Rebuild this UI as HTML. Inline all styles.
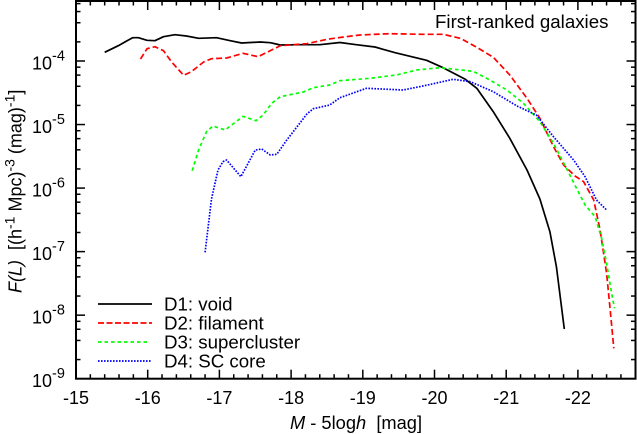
<!DOCTYPE html>
<html>
<head>
<meta charset="utf-8">
<style>
html,body{margin:0;padding:0;background:#fff;}
svg{display:block;}
text{font-family:"Liberation Sans",sans-serif;fill:#000;}
</style>
</head>
<body>
<svg id="chart" width="637" height="434" viewBox="0 0 637 434" xmlns="http://www.w3.org/2000/svg">
<rect x="76" y="1" width="559.5" height="377.7" fill="none" stroke="#000" stroke-width="2"/>
<g id="ticks"></g>
<g id="series"></g>
<text x="435" y="28" font-size="18.7">First-ranked galaxies</text>
<g>
<line x1="98" x2="152" y1="304" y2="304" stroke="#000" stroke-width="1.7"/>
<text x="164" y="310.5" font-size="18.7">D1: void</text>
<line x1="98" x2="152" y1="323" y2="323" stroke="#f00" stroke-width="1.7" stroke-dasharray="6 2.5"/>
<text x="164" y="329.5" font-size="18.7">D2: filament</text>
<line x1="98" x2="150" y1="342" y2="342" stroke="#0f0" stroke-width="1.7" stroke-dasharray="3.5 3"/>
<text x="164" y="348.5" font-size="18.7">D3: supercluster</text>
<line x1="98" x2="151" y1="361" y2="361" stroke="#00f" stroke-width="1.7" stroke-dasharray="1.6 1.4"/>
<text x="164" y="367.5" font-size="18.7">D4: SC core</text>
</g>
<text x="356" y="429" font-size="18.3" text-anchor="middle" xml:space="preserve"><tspan font-style="italic">M</tspan> - 5log<tspan font-style="italic">h</tspan>  [mag]</text>
<text transform="translate(21.5,293) rotate(-90)" font-size="18" xml:space="preserve"><tspan font-style="italic">F(L)</tspan>  [(h<tspan font-size="14" dy="-7">-1</tspan><tspan dy="7"> Mpc)</tspan><tspan font-size="14" dy="-7">-3</tspan><tspan dy="7"> (mag)</tspan><tspan font-size="14" dy="-7">-1</tspan><tspan dy="7">]</tspan></text>
</svg>
<script>
const xTickLabels = [-15, -16, -17, -18, -19, -20, -21, -22];
const yTickExponents = [-9, -8, -7, -6, -5, -4];

const d1Mag = [-15.40,-15.59,-15.79,-15.87,-15.99,-16.10,-16.22,-16.38,-16.54,-16.71,-16.96,-17.15,-17.31,-17.57,-17.71,-17.85,-18.12,-18.40,-18.68,-18.91,-19.17,-19.45,-19.89,-20.12,-20.43,-20.59,-20.82,-21.05,-21.29,-21.47,-21.61,-21.70,-21.81];
const d1LogF = [-3.863,-3.759,-3.633,-3.633,-3.674,-3.681,-3.618,-3.586,-3.607,-3.643,-3.633,-3.681,-3.717,-3.701,-3.712,-3.748,-3.743,-3.743,-3.709,-3.743,-3.780,-3.869,-3.989,-4.105,-4.288,-4.430,-4.798,-5.217,-5.715,-6.172,-6.686,-7.237,-8.218];

const d2Mag = [-15.90,-15.99,-16.10,-16.22,-16.33,-16.50,-16.61,-16.78,-16.89,-17.10,-17.33,-17.54,-17.68,-17.85,-18.22,-18.50,-18.68,-18.96,-19.38,-19.84,-20.12,-20.36,-20.59,-20.82,-21.05,-21.29,-21.47,-21.66,-21.80,-21.96,-22.08,-22.22,-22.31,-22.40,-22.45,-22.50];
const d2LogF = [-3.969,-3.806,-3.775,-3.838,-4.011,-4.225,-4.168,-4.016,-3.964,-3.953,-3.879,-3.932,-3.854,-3.759,-3.728,-3.658,-3.630,-3.591,-3.570,-3.580,-3.580,-3.643,-3.784,-3.942,-4.220,-4.587,-4.902,-5.349,-5.637,-5.810,-5.900,-6.188,-6.660,-7.341,-7.919,-8.522];

const d3Mag = [-16.62,-16.71,-16.82,-16.91,-17.08,-17.19,-17.33,-17.51,-17.61,-17.73,-17.85,-18.17,-18.31,-18.54,-18.68,-19.10,-19.47,-19.75,-20.08,-20.54,-20.77,-21.01,-21.24,-21.47,-21.66,-21.84,-21.98,-22.10,-22.24,-22.33,-22.40,-22.47,-22.51];
const d3LogF = [-5.726,-5.401,-5.113,-5.023,-5.086,-4.991,-4.870,-4.940,-4.850,-4.666,-4.562,-4.488,-4.420,-4.378,-4.310,-4.272,-4.220,-4.142,-4.105,-4.162,-4.299,-4.456,-4.666,-4.955,-5.295,-5.689,-6.003,-6.266,-6.450,-6.790,-7.184,-7.656,-7.892];

const d4Mag = [-16.80,-16.89,-16.98,-17.05,-17.10,-17.30,-17.40,-17.50,-17.59,-17.71,-17.80,-17.94,-18.22,-18.31,-18.54,-18.68,-19.05,-19.56,-19.84,-20.26,-20.50,-20.82,-21.15,-21.42,-21.66,-21.94,-22.10,-22.26,-22.40];
const d4LogF = [-7.011,-6.170,-5.715,-5.585,-5.558,-5.821,-5.610,-5.401,-5.385,-5.479,-5.468,-5.243,-4.834,-4.751,-4.692,-4.578,-4.430,-4.456,-4.393,-4.288,-4.326,-4.483,-4.708,-4.850,-5.191,-5.558,-5.821,-6.188,-6.345];

function xScale(m) { return 76 + (-15 - m) * 71.7; }
function yScale(l) { return 61 + (-4 - l) * 63.54; }

const svgNS = 'http://www.w3.org/2000/svg';
const tickGroup = document.getElementById('ticks');
const seriesGroup = document.getElementById('series');
const svgRoot = document.getElementById('chart');

function drawTick(x1, y1, x2, y2, w) {
  const t = document.createElementNS(svgNS, 'line');
  
  
  t.setAttribute('x1', x1);
  t.setAttribute('y1', y1);
  t.setAttribute('x2', x2);
  t.setAttribute('y2', y2);
  t.setAttribute('stroke', '#000');
  t.setAttribute('stroke-width', w);
  tickGroup.appendChild(t);
}

for (let i = 0; i <= 39; i++) {
  const m = -15 - i * 0.2;
  const x = xScale(m);
  const len = i % 5 === 0 ? 9 : 4.5;
  drawTick(x, 378.7, x, 378.7 - len, 1.5);
  drawTick(x, 1, x, 1 + len, 1.5);
}

for (let e = -9; e <= -4; e++) {
  [1, 2, 4, 6, 8].forEach(function (k) {
    const y = yScale(e + Math.log10(k));
    const len = k === 1 ? 9 : 4.5;
    if (y > 378 || y < 2) return;
    drawTick(76, y, 76 + len, y, 1.5);
    drawTick(635.5, y, 635.5 - len, y, 1.5);
  });
}

xTickLabels.forEach(function (v) {
  const t = document.createElementNS(svgNS, 'text');
  
  
  t.setAttribute('x', xScale(v));
  t.setAttribute('y', 404);
  t.setAttribute('font-size', '18');
  t.setAttribute('text-anchor', 'middle');
  t.textContent = String(v);
  svgRoot.appendChild(t);
});

yTickExponents.forEach(function (e) {
  const y = yScale(e);
  const t = document.createElementNS(svgNS, 'text');
  
  
  t.setAttribute('x', 32);
  t.setAttribute('y', y + 8.5);
  t.setAttribute('font-size', '18');
  t.textContent = '10';
  const s = document.createElementNS(svgNS, 'tspan');
  s.setAttribute('font-size', '14.5');
  s.setAttribute('dy', '-9');
  s.textContent = String(e);
  t.appendChild(s);
  svgRoot.appendChild(t);
});

function drawSeries(mags, logs, color, dash, name) {
  const p = document.createElementNS(svgNS, 'polyline');
  
  
  p.setAttribute('points', mags.map(function (m, i) {
    return xScale(m).toFixed(1) + ',' + yScale(logs[i]).toFixed(1);
  }).join(' '));
  p.setAttribute('fill', 'none');
  p.setAttribute('stroke', color);
  p.setAttribute('stroke-width', '1.7');
  p.setAttribute('stroke-linejoin', 'round');
  if (dash) p.setAttribute('stroke-dasharray', dash);
  seriesGroup.appendChild(p);
}

drawSeries(d1Mag, d1LogF, '#000', '', 'series-d1-void');
drawSeries(d2Mag, d2LogF, '#f00', '6 3', 'series-d2-filament');
drawSeries(d3Mag, d3LogF, '#0f0', '3.5 3', 'series-d3-supercluster');
drawSeries(d4Mag, d4LogF, '#00f', '1.6 1.4', 'series-d4-sc-core');
</script>
</body>
</html>
